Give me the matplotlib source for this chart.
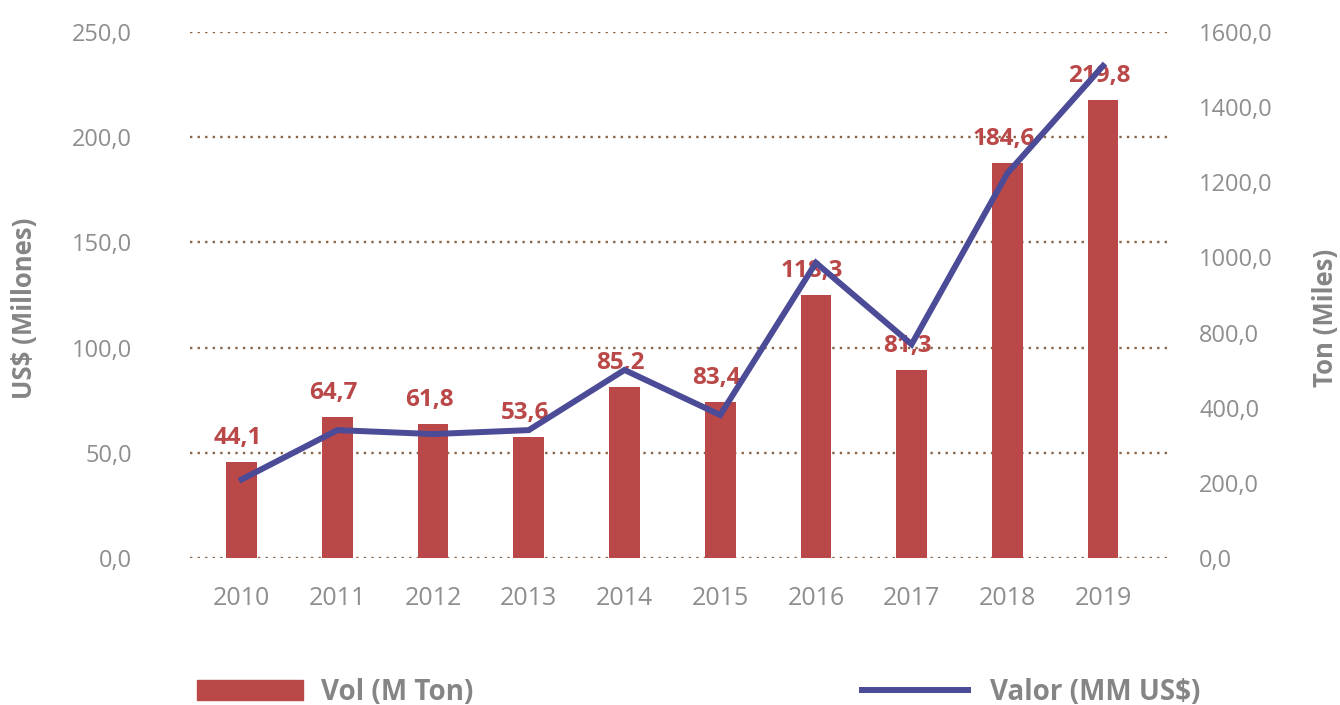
import matplotlib
matplotlib.use("Agg")
import numpy as np
import matplotlib.pyplot as plt
from matplotlib.ticker import FuncFormatter
from matplotlib.patches import Patch
from matplotlib.lines import Line2D

# data
years = ['2010', '2011', '2012', '2013', '2014', '2015', '2016', '2017', '2018', '2019']
vol = [45.8, 67.2, 63.7, 57.7, 81.4, 74.1, 125.0, 89.4, 187.7, 217.7]   # bars, left axis
vol_labels = ['44,1', '64,7', '61,8', '53,6', '85,2', '83,4', '118,3', '81,3', '184,6', '219,8']
valor = [239, 389, 377, 389, 572, 435, 898, 650, 1170, 1497]           # line, right axis
right_ticklabels = ['0,0', '200,0', '400,0', '800,0', '1000,0', '1200,0', '1400,0', '1600,0']

RED = '#BA4848'
BLUE = '#4B4B97'
GREY = '#858585'
TICK = '#8E8E8E'
GRID = '#8A6446'

plt.rcParams['font.family'] = ['Open Sans', 'DejaVu Sans']

fig = plt.figure(figsize=(13.4, 7.05), dpi=100)
ax = fig.add_axes([190/1340, 1 - 558/705, 980/1340, 526/705])
ax2 = ax.twinx()

x = np.arange(len(years))

ax.set_ylim(0, 250)
ax.set_yticks(np.arange(0, 251, 50))
ax.yaxis.set_major_formatter(FuncFormatter(lambda v, p: ('%.1f' % v).replace('.', ',')))
ax.grid(axis='y', color=GRID, linestyle=(0, (1, 2.2)), linewidth=1.7)
ax.set_axisbelow(True)

ax.bar(x, vol, width=0.32, color=RED, zorder=2)
for xi, v, lab in zip(x, vol, vol_labels):
    ax.annotate(lab, (xi, v), xytext=(-4, 24), textcoords='offset pixels',
                ha='center', va='center', color=RED, fontsize=17.5, fontweight='bold', zorder=4)

ax2.plot(x, valor, color=BLUE, linewidth=4.3, zorder=3, solid_joinstyle='miter')
ax2.set_ylim(0, 1600)
ax2.set_yticks(np.linspace(0, 1600, 8))
ax2.set_yticklabels(right_ticklabels)

ax.set_xlim(-0.54, 9.7)
ax.set_xticks(x)
ax.set_xticklabels(years)

for a in (ax, ax2):
    for s in a.spines.values():
        s.set_visible(False)
ax.tick_params(axis='y', length=0, colors=TICK, labelsize=17, pad=42)
ax.tick_params(axis='x', length=0, colors=TICK, labelsize=18, pad=20)
ax2.tick_params(axis='y', length=0, colors=TICK, labelsize=17, pad=21)

fig.text(25/1340, 1 - 308/705, 'US$ (Millones)', rotation=90, ha='center', va='center',
         color=GREY, fontsize=18.5, fontweight='bold')
fig.text(1325/1340, 1 - 318/705, 'Ton (Miles)', rotation=90, ha='center', va='center',
         color=GREY, fontsize=18.5, fontweight='bold')

fig.legend(handles=[Patch(color=RED, label='Vol (M Ton)')], loc='center left',
           bbox_to_anchor=(197/1340, 1 - 692/705), frameon=False, borderpad=0,
           borderaxespad=0, handlelength=3.8, handleheight=0.75, handletextpad=0.65,
           prop={'size': 20, 'weight': 'bold'}, labelcolor=GREY)
fig.legend(handles=[Line2D([], [], color=BLUE, linewidth=4.3, label='Valor (MM US$)')],
           loc='center left', bbox_to_anchor=(862/1340, 1 - 692/705), frameon=False,
           borderpad=0, borderaxespad=0, handlelength=3.8, handletextpad=0.8,
           prop={'size': 20, 'weight': 'bold'}, labelcolor=GREY)

fig.savefig('out.png', dpi=100)
